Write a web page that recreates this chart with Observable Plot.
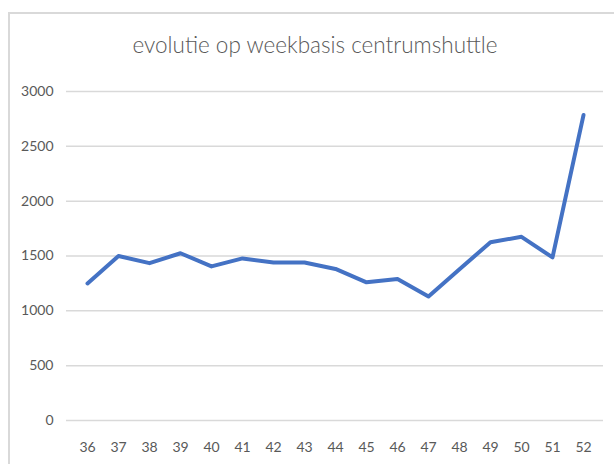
<!DOCTYPE html>
<html>
<head>
<meta charset="utf-8">
<script src="https://cdn.jsdelivr.net/npm/d3@7"></script>
<script src="https://cdn.jsdelivr.net/npm/@observablehq/plot@0.6"></script>
<style>
  html, body { margin: 0; padding: 0; background: #fff; overflow: hidden; }
  body { width: 614px; height: 464px; position: relative; font-family: Lato, "Open Sans", sans-serif; }
  #frame { position: absolute; left: 8px; top: 12px; width: 700px; height: 600px; border: 2px solid #d9d9d9; box-sizing: border-box; }
  #title { position: relative; height: 70px; box-sizing: border-box; padding-top: 32px; text-align: center; font-size: 22.5px; font-weight: 300; line-height: 26px; color: #595959; padding-left: 16px; }
  #chart { position: relative; }
</style>
</head>
<body>
<div id="frame"></div>
<div id="title">evolutie op weekbasis centrumshuttle</div>
<div id="chart"></div>
<script>
const weeks = [36, 37, 38, 39, 40, 41, 42, 43, 44, 45, 46, 47, 48, 49, 50, 51, 52];
const riders = [1250, 1500, 1435, 1525, 1405, 1478, 1440, 1440, 1382, 1260, 1290, 1130, 1380, 1625, 1675, 1487, 2785];
const yTicks = [0, 500, 1000, 1500, 2000, 2500, 3000];

const data = weeks.map((w, i) => ({week: w, value: riders[i]}));

const chart = Plot.plot({
  width: 614,
  height: 394,
  marginLeft: 66,
  marginRight: 11,
  marginTop: 21,
  marginBottom: 44,
  style: {fontFamily: "Lato, 'Open Sans', sans-serif", fontSize: "14px", color: "#595959", background: "transparent"},
  x: {type: "point", domain: weeks, range: [82.3, 587.5], padding: 0},
  y: {domain: [0, 3000]},
  marks: [
    Plot.ruleY(yTicks, {stroke: "#d9d9d9", strokeWidth: 1.5, strokeOpacity: 1}),
    Plot.axisY(yTicks, {tickSize: 0, tickPadding: 13, tickFormat: d => String(d), label: null, fill: "#595959"}),
    Plot.axisX(weeks, {tickSize: 0, tickPadding: 22, tickFormat: d => String(d), label: null, fill: "#595959"}),
    Plot.line(data, {x: "week", y: "value", stroke: "#4472C4", strokeWidth: 4, strokeLinejoin: "round", strokeLinecap: "round"})
  ]
});
document.getElementById("chart").appendChild(chart);
</script>
</body>
</html>
